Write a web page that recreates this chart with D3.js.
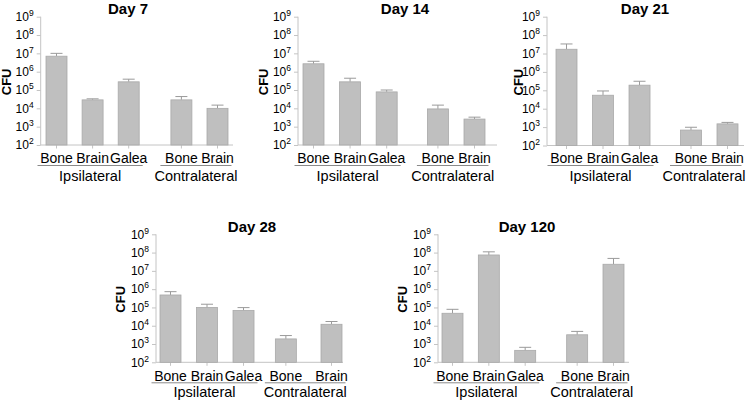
<!DOCTYPE html>
<html><head><meta charset="utf-8">
<script src="https://cdn.jsdelivr.net/npm/d3@7"></script>
<style>
html,body{margin:0;padding:0;background:#fff;}
svg{display:block;font-family:Arial,"Liberation Sans",sans-serif;}
</style></head>
<body><svg id="c" width="747" height="400"></svg>
<script>
// ---- data ----
const panelTitles = ["Day 7", "Day 14", "Day 21", "Day 28", "Day 120"];
const categories = ["Bone", "Brain", "Galea", "Bone", "Brain"];
const groupNames = ["Ipsilateral", "Contralateral"];
const yAxisLabel = "CFU";
const tickExponents = [2, 3, 4, 5, 6, 7, 8, 9];

const day7Mean   = [7.0e6, 2.9e4, 2.8e5, 2.9e4, 1.0e4];
const day7Upper  = [1.0e7, 3.3e4, 3.9e5, 4.4e4, 1.5e4];
const day14Mean  = [2.7e6, 2.8e5, 7.9e4, 9.3e3, 2.6e3];
const day14Upper = [3.7e6, 4.4e5, 1.0e5, 1.5e4, 3.3e3];
const day21Mean  = [1.7e7, 5.4e4, 1.9e5, 690, 1.5e3];
const day21Upper = [3.3e7, 9.2e4, 3.1e5, 980, 1.8e3];
const day28Mean  = [4.8e5, 1.0e5, 6.9e4, 1.9e3, 1.2e4];
const day28Upper = [7.3e5, 1.5e5, 9.8e4, 2.9e3, 1.7e4];
const day120Mean  = [4.8e4, 7.4e7, 450, 3.2e3, 2.3e7];
const day120Upper = [7.9e4, 1.1e8, 660, 4.9e3, 4.8e7];

const means = [day7Mean, day14Mean, day21Mean, day28Mean, day120Mean];
const uppers = [day7Upper, day14Upper, day21Upper, day28Upper, day120Upper];

// ---- layout (positions only) ----
const layout = [
  {axisX: 40.7, xEnd: 233, top: 16.7, bottom: 145, c0: 56.5, c4: 217.5, slots: [0,1,2,3.46,4.46], titleX: 128, titleY: 13.5, cfuX: 6, catY: 163.3, lineY: 165.5, groupY: 181},
  {axisX: 298, xEnd: 497, top: 16.7, bottom: 145, c0: 313.5, c4: 474.5, slots: [0,1,2,3.4,4.4], titleX: 405, titleY: 13.5, cfuX: 263, catY: 163.3, lineY: 165.5, groupY: 181},
  {axisX: 547, xEnd: 744, top: 16.7, bottom: 145.5, c0: 566.5, c4: 727.5, slots: [0,1,2,3.41,4.41], titleX: 645, titleY: 13.5, cfuX: 518, catY: 163.3, lineY: 165.5, groupY: 181},
  {axisX: 156, xEnd: 343, top: 234.3, bottom: 362.3, c0: 170.5, c4: 331.5, slots: [0,1,2,3.16,4.41], titleX: 252, titleY: 231.5, cfuX: 120.5, catY: 380.8, lineY: 382.8, groupY: 396.5},
  {axisX: 438, xEnd: 629, top: 234.3, bottom: 362.3, c0: 452.5, c4: 613.5, slots: [0,1,2,3.43,4.43], titleX: 527, titleY: 231.5, cfuX: 402, catY: 380.8, lineY: 382.8, groupY: 396.5}
];

const svg = d3.select("#c");
const barFill = "#bfbfbf", barStroke = "#a9a9a9", axisCol = "#c4c4c4", errCol = "#9a9a9a", textCol = "#000";

panelTitles.forEach((title, p) => {
  const L = layout[p];
  const g = svg.append("g");
  const y = d3.scaleLog().domain([1e2, 1e9]).range([L.bottom, L.top]);
  const x = d3.scaleLinear().domain([0, L.slots[4]]).range([L.c0, L.c4]);
  const bw = 21, capW = 12;

  // y axis
  const yAxis = d3.axisLeft(y).tickValues(tickExponents.map(e => Math.pow(10, e))).tickSize(4).tickFormat("");
  const ya = g.append("g").attr("transform", `translate(${L.axisX},0)`).call(yAxis);
  ya.select(".domain").attr("stroke", axisCol).attr("d", `M0,${L.top}V${L.bottom}`);
  ya.selectAll(".tick line").attr("stroke", axisCol);
  // tick labels with superscripts
  tickExponents.forEach(e => {
    const t = g.append("text").attr("x", L.axisX - 7).attr("y", y(Math.pow(10, e)) + 4.2)
      .attr("text-anchor", "end").attr("font-size", 12).attr("fill", textCol);
    t.append("tspan").text("10");
    t.append("tspan").attr("font-size", 8.5).attr("dy", -5).text(String(e));
  });

  // x axis line
  g.append("line").attr("x1", L.axisX).attr("x2", L.xEnd).attr("y1", L.bottom).attr("y2", L.bottom)
    .attr("stroke", axisCol);

  const data = categories.map((c, i) => ({c, i, m: means[p][i], u: uppers[p][i]}));
  // x ticks
  g.selectAll(".xt").data(data).enter().append("line")
    .attr("x1", d => x(L.slots[d.i])).attr("x2", d => x(L.slots[d.i]))
    .attr("y1", L.bottom).attr("y2", L.bottom + 3.5).attr("stroke", axisCol);

  // error bars
  g.selectAll(".ev").data(data).enter().append("line")
    .attr("x1", d => x(L.slots[d.i])).attr("x2", d => x(L.slots[d.i]))
    .attr("y1", d => y(d.m)).attr("y2", d => y(d.u)).attr("stroke", errCol);
  g.selectAll(".ec").data(data).enter().append("line")
    .attr("x1", d => x(L.slots[d.i]) - capW / 2).attr("x2", d => x(L.slots[d.i]) + capW / 2)
    .attr("y1", d => y(d.u)).attr("y2", d => y(d.u)).attr("stroke", errCol);

  // bars
  g.selectAll(".bar").data(data).enter().append("rect")
    .attr("x", d => x(L.slots[d.i]) - bw / 2).attr("width", bw)
    .attr("y", d => y(d.m)).attr("height", d => L.bottom - y(d.m))
    .attr("fill", barFill).attr("stroke", barStroke).attr("stroke-width", 0.8);

  // category labels
  g.selectAll(".cl").data(data).enter().append("text")
    .attr("x", d => x(L.slots[d.i])).attr("y", L.catY)
    .attr("text-anchor", "middle").attr("font-size", 14).attr("fill", textCol).text(d => d.c);

  // group underlines and labels
  const grp = [
    {name: groupNames[0], x1: x(L.slots[0]) - 19, x2: x(L.slots[2]) + 14},
    {name: groupNames[1], x1: x(L.slots[3]) - 21, x2: x(L.slots[4]) + 14}
  ];
  grp.forEach(gr => {
    g.append("line").attr("x1", gr.x1).attr("x2", gr.x2).attr("y1", L.lineY).attr("y2", L.lineY)
      .attr("stroke", "#8a8a8a").attr("stroke-width", 1);
    g.append("text").attr("x", Math.min((gr.x1 + gr.x2) / 2, 746 - 42)).attr("y", L.groupY)
      .attr("text-anchor", "middle").attr("font-size", 14.5).attr("fill", textCol).text(gr.name);
  });

  // title
  g.append("text").attr("x", L.titleX).attr("y", L.titleY).attr("text-anchor", "middle")
    .attr("font-size", 15).attr("font-weight", "bold").attr("fill", textCol).text(title);

  // y label
  const cy = (L.top + L.bottom) / 2 + 1;
  g.append("text").attr("transform", `translate(${L.cfuX + 4.5},${cy}) rotate(-90)`)
    .attr("text-anchor", "middle").attr("font-size", 13).attr("font-weight", "bold").attr("fill", textCol).text(yAxisLabel);
});
</script></body></html>
